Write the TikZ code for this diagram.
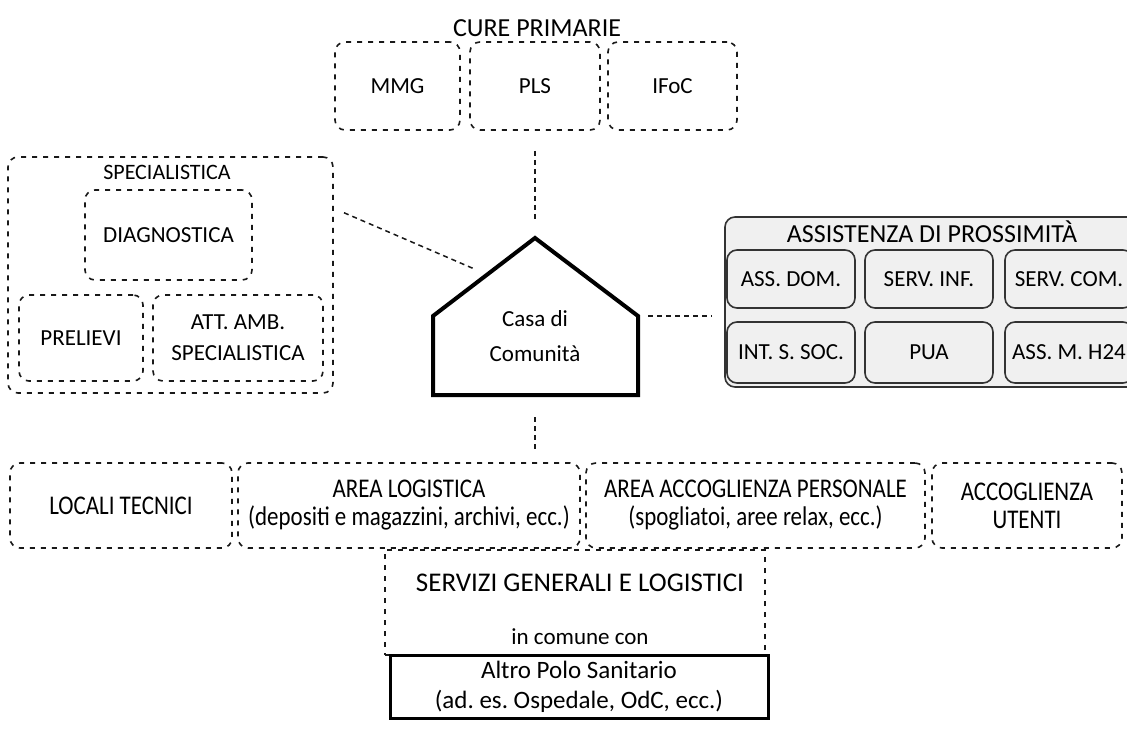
\documentclass[tikz,border=0pt]{standalone}
\usepackage{fontspec}
\setmainfont{Carlito}
\newfontfamily\condfont{Carlito}[FakeStretch=0.85]
\frenchspacing
\begin{document}
\frenchspacing
\begin{tikzpicture}[x=1pt,y=-1pt,
  dbox/.style={draw=black!90, line width=1.6pt, dash pattern=on 5pt off 6pt, rounded corners=10pt,
    inner sep=0pt, align=center, font=\fontsize{23}{31}\selectfont},
  rbox/.style={dbox, font=\condfont\fontsize{27}{28}\selectfont},
  abox/.style={draw=black!80, line width=1.6pt, rounded corners=10pt, fill=gray!12,
    inner sep=0pt, align=center, font=\fontsize{23}{31}\selectfont},
  titletxt/.style={inner sep=0pt, align=center, font=\fontsize{26}{31}\selectfont},
  plain/.style={inner sep=0pt, align=center, font=\fontsize{23}{31}\selectfont},
  conn/.style={draw=black!90, line width=1.5pt, dash pattern=on 5pt off 4pt},
  housestyle/.style={draw=black, line width=4pt, line join=miter, fill=white},
  solidbox/.style={draw=black, line width=3pt, inner sep=0pt, align=center, fill=white,
    font=\fontsize{25}{30}\selectfont}
]
\useasboundingbox (0,0) rectangle (1127,730);
\clip (0,0) rectangle (1127,730);

% CURE PRIMARIE
\node[titletxt] (cure) at (537,28) {CURE PRIMARIE};
\node[dbox, minimum width=125, minimum height=88] (mmg) at (397.5,86) {MMG};
\node[dbox, minimum width=130, minimum height=88] (pls) at (535,86) {PLS};
\node[dbox, minimum width=129, minimum height=88] (ifoc) at (672.5,86) {IFoC};

% SPECIALISTICA
\node[dbox, minimum width=325, minimum height=236] (spec) at (170.5,275) {};
\node[plain, font=\fontsize{22}{26}\selectfont] (spectitle) at (167,172) {SPECIALISTICA};
\node[dbox, minimum width=167, minimum height=90] (diag) at (168.5,235) {DIAGNOSTICA};
\node[dbox, minimum width=124, minimum height=86] (prel) at (81,338) {PRELIEVI};
\node[dbox, minimum width=170, minimum height=86] (att) at (238,338) {ATT. AMB.\\SPECIALISTICA};

% ASSISTENZA DI PROSSIMITA
\node[abox, minimum width=420, minimum height=170] (assist) at (935,302) {};
\node[titletxt] (assisttitle) at (932,232) {ASSISTENZA DI PROSSIMITÀ};
\node[abox, minimum width=128, minimum height=58] (ad) at (791,279) {ASS. DOM.};
\node[abox, minimum width=128, minimum height=58] (si) at (929,279) {SERV. INF.};
\node[abox, minimum width=128, minimum height=58] (sc) at (1069,279) {SERV. COM.};
\node[abox, minimum width=128, minimum height=61] (iss) at (791,352.5) {INT. S. SOC.};
\node[abox, minimum width=128, minimum height=61] (pua) at (929,352.5) {PUA};
\node[abox, minimum width=128, minimum height=61] (amh) at (1069,352.5) {ASS. M. H24};

% Casa di Comunita
\coordinate (apex) at (535,238);
\coordinate (shL) at (433,316);
\coordinate (shR) at (638,316);
\coordinate (botL) at (433,395);
\coordinate (botR) at (638,395);
\coordinate (botC) at (535,395);
\draw[housestyle] (botL) -- (shL) -- (apex) -- (shR) -- (botR) -- cycle;
\node[plain, font=\fontsize{23}{35}\selectfont] (casa) at (535,336) {Casa di\\Comunità};

% bottom row
\node[rbox, minimum width=222, minimum height=85] (loc) at (121,505.5) {LOCALI TECNICI};
\node[rbox, minimum width=342, minimum height=85] (log) at (409,505.5) {AREA LOGISTICA\\(depositi e magazzini, archivi, ecc.)};
\node[rbox, minimum width=339, minimum height=85] (acc) at (755.5,505.5) {AREA ACCOGLIENZA PERSONALE\\(spogliatoi, aree relax, ecc.)};
\node[rbox, minimum width=190, minimum height=85] (ute) at (1027,505.5) {ACCOGLIENZA\\UTENTI};

% servizi generali
\node[dbox, rounded corners=0pt, minimum width=380, minimum height=105] (serv) at (575,602.5) {};
\node[plain, font=\fontsize{27}{31}\selectfont] (servtitle) at (580,583) {SERVIZI GENERALI E LOGISTICI};
\node[plain] (incomune) at (580,637) {in comune con};
\node[solidbox, minimum width=378, minimum height=63] (altro) at (579,687) {Altro Polo Sanitario\\(ad. es. Ospedale, OdC, ecc.)};

% connectors
\coordinate (dSpec) at (333,208);
\coordinate (dRoof) at (486,274);
\draw[conn, shorten <=20pt, shorten >=18pt] (pls.south) -- (apex);
\draw[conn, shorten <=12pt, shorten >=14pt] (dSpec) -- (dRoof);
\draw[conn, shorten <=10pt, shorten >=13pt] (shR) -- (assist.west |- shR);
\draw[conn, shorten <=22pt, shorten >=11pt] (botC) -- (botC |- log.north);
\end{tikzpicture}
\end{document}
